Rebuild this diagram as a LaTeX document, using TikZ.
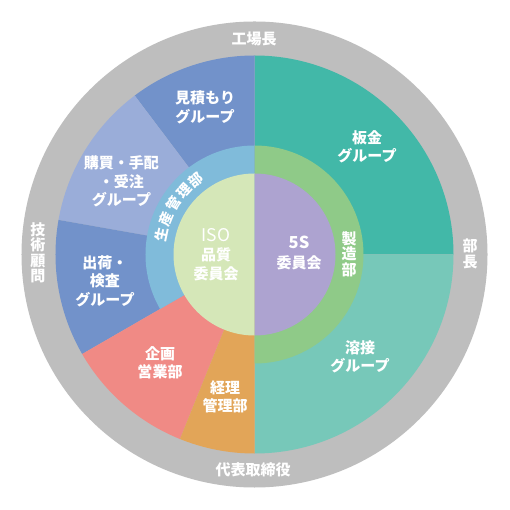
\documentclass[tikz,border=0pt]{standalone}
\usepackage{fontspec}
\setmainfont{Noto Sans CJK JP}
\usepackage{tikz}
\definecolor{ring_gray}{HTML}{BEBEBE}
\definecolor{group_blue}{HTML}{7292CA}
\definecolor{buy_blue}{HTML}{9AADD9}
\definecolor{kanri_blue}{HTML}{80BBDA}
\definecolor{iso_green}{HTML}{D5E7B8}
\definecolor{fives_purple}{HTML}{ADA3D0}
\definecolor{seizo_green}{HTML}{8FCA88}
\definecolor{bankin_teal}{HTML}{42B8A8}
\definecolor{yosetsu_teal}{HTML}{77C8B9}
\definecolor{kikaku_red}{HTML}{F08A85}
\definecolor{keiri_orange}{HTML}{E2A558}
\tikzset{
label_text/.style={text=white, align=center, inner sep=0pt, font=\bfseries\fontsize{15}{18.5}\selectfont},
tate_text/.style={text=white, align=center, inner sep=0pt, font=\bfseries\fontsize{15}{15.5}\selectfont},
arc_char/.style={text=white, inner sep=0pt, font=\bfseries\fontsize{14}{14}\selectfont}
}

\begin{document}
\begin{tikzpicture}
    \fill[white] (-254.5pt,-255.5pt) rectangle (255.5pt,254.5pt);
    \useasboundingbox (-254.5pt,-255.5pt) rectangle (255.5pt,254.5pt);
    % outer ring
    \fill[ring_gray] (0,0) circle[radius=233pt];
    % pie pieces: start/end/radius/colour
    \foreach \a/\b/\r/\c in {0/90/199/bankin_teal, -90/0/199/yosetsu_teal,
        90/127/199/group_blue, 127/170/199/buy_blue, 170/210/199/group_blue,
        210/248/199/kikaku_red, 248/270/199/keiri_orange,
        90/210/109/kanri_blue, -90/90/109/seizo_green,
        90/270/81/iso_green, -90/90/81/fives_purple}
        \fill[\c] (0,0) -- (\a:\r pt) arc[start angle=\a, end angle=\b, radius=\r pt] -- cycle;
    % labels
    \node[label_text] (kojocho) at (-0.5pt,215.5pt) {工場長};
    \node[label_text] (daihyo) at (-1.5pt,-215.5pt) {代表取締役};
    \node[tate_text] (gijutsu) at (-216.5pt,1.5pt) {技\\術\\顧\\問};
    \node[tate_text] (bucho) at (215.5pt,0.5pt) {部\\長};
    \node[label_text] (mitsumori) at (-49.5pt,147pt) {見積もり\\グループ};
    \node[label_text] (kobai) at (-133pt,73pt) {購買・手配\\・受注\\グループ};
    \node[label_text] (shukka) at (-149.5pt,-26.5pt) {出荷・\\検査\\グループ};
    \node[label_text] (kikaku) at (-94.5pt,-108.5pt) {企画\\営業部};
    \node[label_text] (keiri) at (-29.5pt,-142.5pt) {経理\\管理部};
    \node[label_text] (bankin) at (112.5pt,107.5pt) {板金\\グループ};
    \node[label_text] (yosetsu) at (105.5pt,-102.5pt) {溶接\\グループ};
    \node[tate_text] (seizo) at (94.5pt,0.5pt) {製\\造\\部};
    \node[label_text, font=\bfseries\fontsize{15}{19}\selectfont] (iso) at (-38.5pt,-0.5pt)
        {{\mdseries\fontsize{17.5}{19}\selectfont ISO}\\品質\\委員会};
    \node[label_text, font=\bfseries\fontsize{15}{20}\selectfont] (fives) at (44.5pt,1.5pt)
        {{\fontsize{16.5}{20}\selectfont 5S}\\委員会};
    \foreach \ch [count=\i] in {生,産,管,理,部}
        \node[arc_char, rotate={88-10*\i}] (kanri_\i) at ({178-10*\i}:95pt) {\ch};
\end{tikzpicture}
\end{document}
